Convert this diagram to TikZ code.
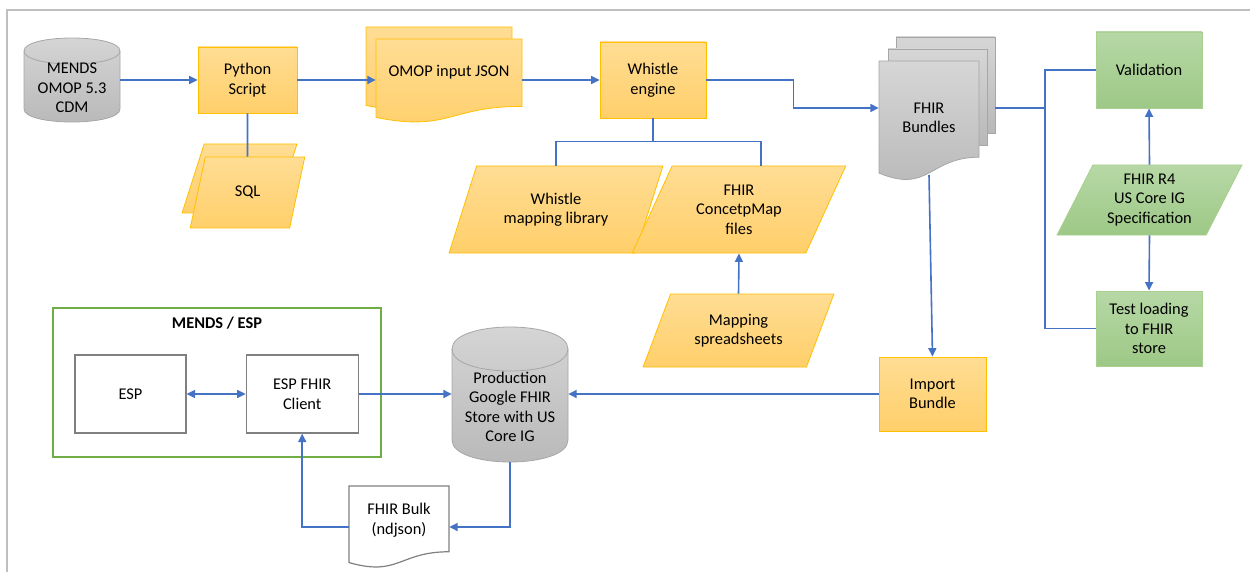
\documentclass[tikz,border=0pt]{standalone}
\usepackage{fontspec}
\setmainfont{Carlito}
\usetikzlibrary{shapes.geometric, positioning, arrows.meta}

\definecolor{flowblue}{RGB}{68,114,196}
\definecolor{yelTop}{RGB}{255,221,148}
\definecolor{yelBot}{RGB}{255,207,106}
\definecolor{yelLine}{RGB}{255,192,0}
\definecolor{grnTop}{RGB}{183,216,166}
\definecolor{grnBot}{RGB}{157,200,134}
\definecolor{grnLine}{RGB}{169,208,142}
\definecolor{gryTop}{RGB}{214,214,214}
\definecolor{gryBot}{RGB}{184,184,184}
\definecolor{gryLine}{RGB}{166,166,166}
\definecolor{boxLine}{RGB}{128,128,128}
\definecolor{frameGrn}{RGB}{112,173,71}
\definecolor{pageLine}{RGB}{191,191,191}

\tikzset{
	x=1pt, y=-1pt, % one unit is one pixel of the layout, y runs downwards
	>={Triangle[length=8.5pt,width=8pt]}, % small filled arrow heads
	link/.style={draw=flowblue, line width=1.6pt}, % every connector
	yellow fill/.style={top color=yelTop, bottom color=yelBot, draw=yelLine, line width=0.8pt},
	green fill/.style={top color=grnTop, bottom color=grnBot, draw=grnLine, line width=0.8pt},
	gray fill/.style={top color=gryTop, bottom color=gryBot, draw=gryLine, line width=0.8pt},
	process/.style={rectangle, inner sep=2pt, align=center},
	io/.style={trapezium, trapezium left angle=63.5, trapezium right angle=116.5,
		trapezium stretches=true, inner sep=2pt, align=center},
	plain box/.style={rectangle, draw=boxLine, line width=1.2pt, fill=white, align=center},
	caption/.style={inner sep=0pt, align=center},
}

% document sheet with a wavy lower edge: style, left, top, right, height
\newcommand{\docshape}[5]{%
	\path[#1] (#2,#3) -- (#4,#3) -- (#4,{#3+0.802*#5})
		.. controls ({(#2+#4)/2},{#3+0.802*#5}) and ({(#2+#4)/2},{#3+1.1075*#5}) .. (#2,{#3+0.934*#5}) -- cycle;}

% database drum: centre x, top, width, height, depth of the end ellipse
\newcommand{\dbshape}[5]{%
	\path[gray fill] ({#1-#3/2},{#2+#5}) -- ({#1-#3/2},{#2+#4-#5})
		.. controls ({#1-#3/2},{#2+#4+#5/3}) and ({#1+#3/2},{#2+#4+#5/3}) .. ({#1+#3/2},{#2+#4-#5})
		-- ({#1+#3/2},{#2+#5})
		.. controls ({#1+#3/2},{#2-#5/3}) and ({#1-#3/2},{#2-#5/3}) .. ({#1-#3/2},{#2+#5}) -- cycle;
	\draw[gryLine, line width=0.8pt] ({#1-#3/2},{#2+#5})
		.. controls ({#1-#3/2},{#2+7*#5/3}) and ({#1+#3/2},{#2+7*#5/3}) .. ({#1+#3/2},{#2+#5});}

\begin{document}
\begin{tikzpicture}[font=\fontsize{16.4}{19.5}\selectfont]
	\useasboundingbox (0,0) rectangle (1250,572);
	\draw[pageLine, line width=2pt] (7,572) -- (7,10) -- (1250,10);

	% shapes drawn by hand
	\dbshape{72}{38}{96}{84}{13}
	\dbshape{510}{327}{116}{135}{22}
	\docshape{yellow fill}{366}{27}{512}{84}
	\docshape{yellow fill}{376}{39}{522}{84}
	\path[gray fill] (896,37) rectangle (995,133);
	\path[gray fill] (888,49) rectangle (987,145);
	\docshape{gray fill}{879}{61}{979}{120}
	\docshape{draw=boxLine, line width=1.2pt, fill=white}{349}{486}{449}{82}

	% upper row
	\node[caption, minimum width=96] (mends) at (72,88) {MENDS\\OMOP 5.3\\CDM};
	\node[process, yellow fill, minimum width=99, minimum height=66] (python) at (247.5,80) {Python\\Script};
	\node[io, yellow fill, trapezium left angle=72.6, trapezium right angle=107.4,
		minimum width=115, minimum height=69] (sqlback) at (239.5,178.5) {};
	\node[io, yellow fill, trapezium left angle=72.6, trapezium right angle=107.4,
		minimum width=115, minimum height=71] (sql) at (247.5,192.5) {SQL};
	\node[caption, minimum width=146] (omop) at (449,72) {OMOP input JSON};
	\node[process, yellow fill, minimum width=106, minimum height=76] (whistle) at (653,80) {Whistle\\engine};
	\node[io, yellow fill, minimum width=214, minimum height=87] (wlib) at (556,209.5) {Whistle\\mapping library};
	\node[io, yellow fill, minimum width=214, minimum height=87] (cmap) at (739,209.5) {FHIR\\ConcetpMap\\files};
	\node[io, yellow fill, minimum width=191, minimum height=73] (mapss) at (738.5,330.5) {Mapping\\spreadsheets};
	\node[caption, minimum width=100, minimum height=114] (bundles) at (929,118) {FHIR\\Bundles};

	% validation column
	\node[process, green fill, minimum width=106, minimum height=76] (validation) at (1149,70) {Validation};
	\node[io, green fill, minimum width=185, minimum height=70] (spec) at (1149.5,200) {FHIR R4\\US Core IG\\Specification};
	\node[process, green fill, minimum width=106, minimum height=75] (testload) at (1149,328.5) {Test loading\\to FHIR\\store};
	\node[process, yellow fill, minimum width=107, minimum height=74] (import) at (932.5,394) {Import\\Bundle};

	% lower row
	\node[caption, minimum width=116, minimum height=110] (prod) at (510,407) {Production\\Google FHIR\\Store with US\\Core IG};
	\node[draw=frameGrn, line width=1.3pt, minimum width=328, minimum height=149] (espgroup) at (217,382.5) {};
	\node[below=6pt of espgroup.north, font=\fontsize{16.4}{19.5}\selectfont\bfseries] {MENDS / ESP};
	\node[plain box, minimum width=111, minimum height=78] (esp) at (130.5,394) {ESP};
	\node[plain box, minimum width=112, minimum height=78, right=59pt of esp] (client) {ESP FHIR\\Client};
	\node[caption, minimum width=100] (bulk) at (399,520) {FHIR Bulk\\(ndjson)};

	% connectors
	\draw[link, ->] (mends.east |- python) -- (python);
	\draw[link] (python) -- (sql.north);
	\draw[link, ->] (python) -- (python -| omop.west);
	\draw[link, ->] (omop.east |- whistle) -- (whistle);
	\draw[link, ->] (whistle.east) -- ++(87,0) |- ([yshift=10pt]bundles.west);
	\draw[link] (whistle.south) -- ++(0,23) coordinate (fork);
	\draw[link] (fork) -| (wlib.north);
	\draw[link] (fork) -| ([xshift=22pt]cmap.north);
	\draw[link, ->] (mapss.north) -- (cmap.south);
	\draw[link] ([xshift=16pt,yshift=10pt]bundles.east) -- ++(50,0) coordinate (split);
	\draw[link] (validation.west) -| (split) |- (testload.west);
	\draw[link, ->] (spec.north) -- (validation.south);
	\draw[link, ->] (spec.south) -- (testload.north);
	\draw[link, ->] (bundles.south) -- (import.north);
	\draw[link, ->] (import.west) -- (import.west -| prod.east);
	\draw[link, <->] (esp) -- (client);
	\draw[link, ->] (client.east) -- (client.east -| prod.west);
	\draw[link, ->] (prod.south) |- ([yshift=-7pt]bulk.east);
	\draw[link, ->] ([yshift=-7pt]bulk.west) -| (client.south);
\end{tikzpicture}
\end{document}
